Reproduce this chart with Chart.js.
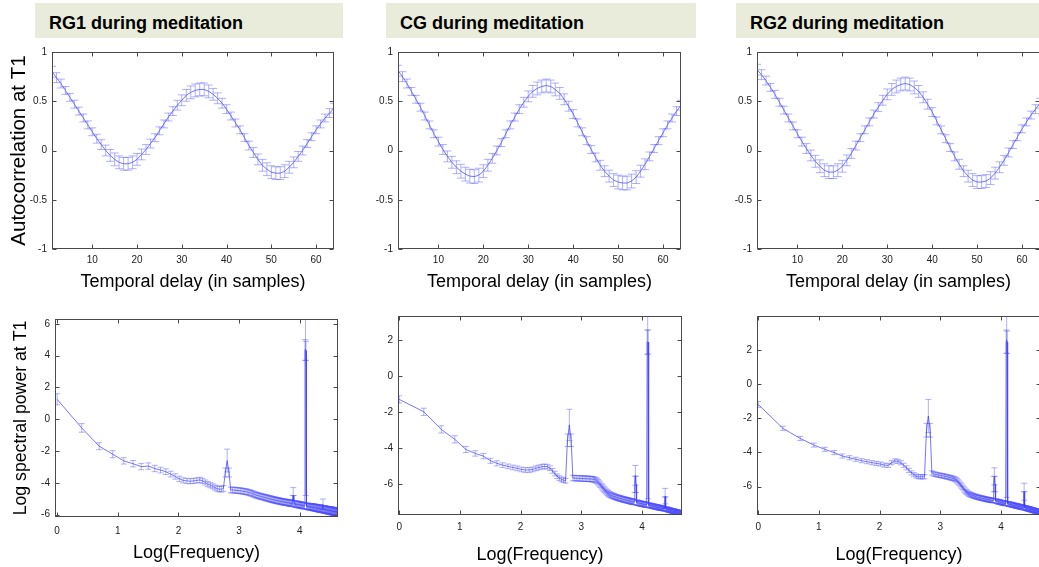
<!DOCTYPE html>
<html>
<head>
<meta charset="utf-8">
<script src="https://cdn.jsdelivr.net/npm/chart.js@4"></script>
<style>
  html, body { margin: 0; padding: 0; background: #fff; }
  #fig { position: relative; width: 1039px; height: 567px; overflow: hidden; background: #fff; }
  .ttl { position: absolute; top: 3px; height: 35px; box-sizing: border-box; padding: 10px 0 0 14px;
         background: #e9ecda; font: bold 18px 'Liberation Sans', Arial, sans-serif; line-height: 20px; color: #000; white-space: nowrap; }
  canvas { position: absolute; }
</style>
</head>
<body>
<div id="fig">
  <div class="ttl" style="left:35px;width:308px">RG1 during meditation</div>
  <div class="ttl" style="left:386px;width:310px">CG during meditation</div>
  <div class="ttl" style="left:736px;width:310px">RG2 during meditation</div>
  <canvas id="c1" width="345" height="260" style="left:0;top:40px"></canvas>
  <canvas id="c2" width="345" height="260" style="left:346px;top:40px"></canvas>
  <canvas id="c3" width="340" height="260" style="left:705px;top:40px"></canvas>
  <canvas id="c4" width="345" height="262" style="left:0;top:305px"></canvas>
  <canvas id="c5" width="345" height="262" style="left:346px;top:305px"></canvas>
  <canvas id="c6" width="345" height="262" style="left:705px;top:305px"></canvas>
</div>
<script>
// ---- autocorrelation (top row) ----
const lagSamples = [1, 2, 3, 4, 5, 6, 7, 8, 9, 10, 11, 12, 13, 14, 15, 16, 17, 18, 19, 20,
  21, 22, 23, 24, 25, 26, 27, 28, 29, 30, 31, 32, 33, 34, 35, 36, 37, 38, 39, 40,
  41, 42, 43, 44, 45, 46, 47, 48, 49, 50, 51, 52, 53, 54, 55, 56, 57, 58, 59, 60,
  61, 62, 63, 64];
const lagTicks = [10, 20, 30, 40, 50, 60];
const acTicks = [-1, -0.5, 0, 0.5, 1];

const acMeanRG1 = [0.80, 0.74, 0.68, 0.61, 0.54, 0.47, 0.40, 0.33, 0.26, 0.19,
  0.12, 0.06, 0.00, -0.05, -0.09, -0.12, -0.135, -0.135, -0.12, -0.09,
  -0.04, 0.01, 0.07, 0.13, 0.20, 0.27, 0.34, 0.40, 0.46, 0.51,
  0.56, 0.59, 0.61, 0.62, 0.62, 0.60, 0.57, 0.53, 0.48, 0.42,
  0.35, 0.28, 0.21, 0.13, 0.05, -0.02, -0.09, -0.15, -0.19, -0.22,
  -0.23, -0.23, -0.21, -0.17, -0.12, -0.06, 0.00, 0.07, 0.14, 0.21,
  0.27, 0.33, 0.38, 0.43];
const acErrRG1 = [0.055, 0.05, 0.045, 0.04, 0.04, 0.04, 0.04, 0.04, 0.04, 0.04,
  0.045, 0.05, 0.055, 0.06, 0.065, 0.065, 0.065, 0.065, 0.065, 0.06,
  0.055, 0.05, 0.045, 0.04, 0.04, 0.04, 0.04, 0.045, 0.05, 0.055,
  0.06, 0.065, 0.065, 0.065, 0.065, 0.065, 0.06, 0.055, 0.05, 0.045,
  0.04, 0.04, 0.04, 0.04, 0.045, 0.05, 0.055, 0.06, 0.065, 0.065,
  0.065, 0.065, 0.065, 0.06, 0.055, 0.05, 0.045, 0.04, 0.04, 0.04,
  0.04, 0.04, 0.045, 0.05];

const acMeanCG = [0.81, 0.75, 0.68, 0.60, 0.52, 0.44, 0.35, 0.26, 0.17, 0.09,
  0.01, -0.06, -0.12, -0.17, -0.21, -0.24, -0.26, -0.265, -0.25, -0.21,
  -0.15, -0.08, 0.00, 0.08, 0.17, 0.26, 0.34, 0.42, 0.49, 0.55,
  0.60, 0.63, 0.65, 0.66, 0.65, 0.62, 0.58, 0.52, 0.45, 0.37,
  0.28, 0.19, 0.10, 0.01, -0.07, -0.15, -0.21, -0.26, -0.30, -0.32,
  -0.33, -0.33, -0.31, -0.27, -0.21, -0.14, -0.06, 0.02, 0.10, 0.18,
  0.26, 0.33, 0.40, 0.46];
const acErrCG = [0.055, 0.05, 0.045, 0.04, 0.04, 0.04, 0.04, 0.04, 0.04, 0.045,
  0.05, 0.055, 0.06, 0.065, 0.07, 0.07, 0.07, 0.07, 0.07, 0.065,
  0.06, 0.05, 0.045, 0.04, 0.04, 0.04, 0.04, 0.045, 0.05, 0.055,
  0.06, 0.065, 0.065, 0.065, 0.065, 0.065, 0.06, 0.055, 0.05, 0.045,
  0.04, 0.04, 0.04, 0.04, 0.045, 0.05, 0.055, 0.06, 0.065, 0.07,
  0.07, 0.07, 0.07, 0.065, 0.06, 0.055, 0.045, 0.04, 0.04, 0.04,
  0.04, 0.04, 0.045, 0.05];

const acMeanRG2 = [0.82, 0.77, 0.71, 0.64, 0.57, 0.49, 0.41, 0.33, 0.25, 0.17,
  0.09, 0.02, -0.05, -0.11, -0.16, -0.20, -0.22, -0.22, -0.20, -0.16,
  -0.10, -0.03, 0.05, 0.13, 0.21, 0.29, 0.37, 0.44, 0.51, 0.57,
  0.62, 0.65, 0.67, 0.68, 0.67, 0.64, 0.60, 0.54, 0.47, 0.39,
  0.30, 0.21, 0.12, 0.03, -0.06, -0.14, -0.21, -0.26, -0.30, -0.32,
  -0.32, -0.31, -0.28, -0.23, -0.17, -0.10, -0.02, 0.06, 0.14, 0.22,
  0.29, 0.36, 0.42, 0.48];
const acErrRG2 = [0.055, 0.05, 0.045, 0.04, 0.04, 0.04, 0.04, 0.04, 0.04, 0.04,
  0.045, 0.05, 0.055, 0.06, 0.065, 0.065, 0.065, 0.065, 0.065, 0.06,
  0.055, 0.05, 0.045, 0.04, 0.04, 0.04, 0.04, 0.045, 0.05, 0.055,
  0.06, 0.065, 0.065, 0.065, 0.065, 0.065, 0.06, 0.055, 0.05, 0.045,
  0.04, 0.04, 0.04, 0.04, 0.045, 0.05, 0.055, 0.06, 0.065, 0.065,
  0.065, 0.065, 0.065, 0.06, 0.055, 0.05, 0.045, 0.04, 0.04, 0.04,
  0.04, 0.04, 0.045, 0.05];

// ---- log spectral power (bottom row), one value per 0.5 Hz ----
const freqHz = [1, 1.5, 2, 2.5, 3, 3.5, 4, 4.5, 5, 5.5,
  6, 6.5, 7, 7.5, 8, 8.5, 9, 9.5, 10, 10.5,
  11, 11.5, 12, 12.5, 13, 13.5, 14, 14.5, 15, 15.5,
  16, 16.5, 17, 17.5, 18, 18.5, 19, 19.5, 20, 20.5,
  21, 21.5, 22, 22.5, 23, 23.5, 24, 24.5, 25, 25.5,
  26, 26.5, 27, 27.5, 28, 28.5, 29, 29.5, 30, 30.5,
  31, 31.5, 32, 32.5, 33, 33.5, 34, 34.5, 35, 35.5,
  36, 36.5, 37, 37.5, 38, 38.5, 39, 39.5, 40, 40.5,
  41, 41.5, 42, 42.5, 43, 43.5, 44, 44.5, 45, 45.5,
  46, 46.5, 47, 47.5, 48, 48.5, 49, 49.5, 50, 50.5,
  51, 51.5, 52, 52.5, 53, 53.5, 54, 54.5, 55, 55.5,
  56, 56.5, 57, 57.5, 58, 58.5, 59, 59.5, 60, 60.5,
  61, 61.5, 62, 62.5, 63, 63.5, 64, 64.5, 65, 65.5,
  66, 66.5, 67, 67.5, 68, 68.5, 69, 69.5, 70, 70.5,
  71, 71.5, 72, 72.5, 73, 73.5, 74, 74.5, 75, 75.5,
  76, 76.5, 77, 77.5, 78, 78.5, 79, 79.5, 80, 80.5,
  81, 81.5, 82, 82.5, 83, 83.5, 84, 84.5, 85, 85.5,
  86, 86.5, 87, 87.5, 88, 88.5, 89, 89.5, 90, 90.5,
  91, 91.5, 92, 92.5, 93, 93.5, 94, 94.5, 95, 95.5,
  96, 96.5, 97, 97.5, 98, 98.5, 99, 99.5, 100, 100.5,
  101, 101.5, 102, 102.5, 103, 103.5, 104, 104.5, 105];
const logFreqTicks = [0, 1, 2, 3, 4];
const spTicksRG1 = [-6, -4, -2, 0, 2, 4, 6];
const spTicksCG = [-6, -4, -2, 0, 2];
const spTicksRG2 = [-6, -4, -2, 0, 2];

const spMeanRG1 = [1.25, -0.55, -1.7, -2.2, -2.62, -2.8, -2.98, -2.95, -3.1, -3.2,
  -3.3, -3.45, -3.6, -3.75, -3.85, -3.88, -3.9, -3.88, -3.85, -3.82,
  -3.88, -3.98, -4.08, -4.15, -4.22, -4.3, -4.36, -4.4, -4.4, -4.35,
  -3.35, -2.6, -3.35, -4.45, -4.45, -4.46, -4.47, -4.48, -4.5, -4.5,
  -4.52, -4.53, -4.55, -4.56, -4.58, -4.61, -4.63, -4.65, -4.68, -4.71,
  -4.74, -4.77, -4.79, -4.81, -4.83, -4.85, -4.87, -4.88, -4.9, -4.92,
  -4.93, -4.95, -4.97, -4.98, -5.0, -5.01, -5.03, -5.04, -5.06, -5.07,
  -5.08, -5.09, -5.11, -5.12, -5.13, -5.14, -5.15, -5.16, -5.17, -5.18,
  -5.19, -5.2, -5.21, -5.22, -5.22, -5.23, -5.24, -5.25, -5.25, -5.26,
  -5.27, -5.28, -5.28, -5.29, -5.3, -5.1, -4.8, -5.1, -5.32, -5.33,
  -5.34, -5.35, -5.35, -5.36, -5.37, -5.37, -5.38, -5.39, -5.39, -5.4,
  -5.41, -5.42, -5.42, -5.43, -5.44, -5.44, -5.45, 4.35, 4.4, 4.3,
  -5.47, -5.48, -5.48, -5.49, -5.49, -5.5, -5.5, -5.51, -5.51, -5.52,
  -5.52, -5.53, -5.53, -5.54, -5.54, -5.55, -5.55, -5.56, -5.56, -5.57,
  -5.57, -5.58, -5.58, -5.59, -5.59, -5.6, -5.6, -5.61, -5.61, -5.62,
  -5.62, -5.63, -5.63, -5.64, -5.64, -5.65, -5.65, -5.66, -5.35, -5.66,
  -5.67, -5.67, -5.68, -5.68, -5.69, -5.69, -5.7, -5.7, -5.71, -5.71,
  -5.72, -5.72, -5.72, -5.73, -5.73, -5.74, -5.74, -5.74, -5.75, -5.75,
  -5.76, -5.76, -5.77, -5.77, -5.78, -5.78, -5.78, -5.79, -5.79, -5.8,
  -5.8, -5.81, -5.81, -5.81, -5.82, -5.82, -5.83, -5.83, -5.83, -5.84,
  -5.84, -5.84, -5.85, -5.85, -5.85, -5.86, -5.86, -5.86, -5.87];
const spErrRG1 = [0.35, 0.27, 0.22, 0.22, 0.2, 0.2, 0.2, 0.2, 0.2, 0.18,
  0.18, 0.18, 0.17, 0.17, 0.16, 0.16, 0.16, 0.16, 0.16, 0.16,
  0.16, 0.16, 0.16, 0.16, 0.16, 0.16, 0.17, 0.17, 0.18, 0.18,
  0.28, 0.72, 0.28, 0.18, 0.18, 0.18, 0.18, 0.18, 0.18, 0.18,
  0.18, 0.18, 0.18, 0.18, 0.18, 0.18, 0.18, 0.18, 0.18, 0.18,
  0.18, 0.18, 0.18, 0.18, 0.18, 0.18, 0.18, 0.18, 0.18, 0.18,
  0.19, 0.19, 0.19, 0.19, 0.19, 0.19, 0.19, 0.19, 0.19, 0.19,
  0.19, 0.19, 0.19, 0.19, 0.19, 0.19, 0.19, 0.19, 0.19, 0.19,
  0.19, 0.19, 0.19, 0.19, 0.19, 0.19, 0.19, 0.19, 0.19, 0.19,
  0.2, 0.2, 0.2, 0.2, 0.2, 0.3, 0.5, 0.3, 0.2, 0.2,
  0.2, 0.2, 0.2, 0.2, 0.2, 0.2, 0.2, 0.2, 0.2, 0.2,
  0.2, 0.2, 0.2, 0.2, 0.2, 0.2, 0.2, 0.65, 9.2, 0.6,
  0.2, 0.2, 0.2, 0.2, 0.2, 0.2, 0.2, 0.2, 0.2, 0.2,
  0.21, 0.21, 0.21, 0.21, 0.21, 0.21, 0.21, 0.21, 0.21, 0.21,
  0.22, 0.22, 0.22, 0.22, 0.22, 0.22, 0.22, 0.22, 0.22, 0.22,
  0.22, 0.22, 0.22, 0.22, 0.22, 0.22, 0.22, 0.22, 0.33, 0.22,
  0.23, 0.23, 0.23, 0.23, 0.23, 0.23, 0.23, 0.23, 0.23, 0.23,
  0.23, 0.23, 0.23, 0.23, 0.23, 0.23, 0.23, 0.23, 0.23, 0.23,
  0.24, 0.24, 0.24, 0.24, 0.24, 0.24, 0.24, 0.24, 0.24, 0.24,
  0.24, 0.24, 0.24, 0.24, 0.24, 0.24, 0.24, 0.24, 0.24, 0.24,
  0.24, 0.24, 0.24, 0.24, 0.24, 0.24, 0.24, 0.24, 0.24];

const spMeanCG = [-1.28, -1.97, -2.95, -3.5, -4.06, -4.28, -4.43, -4.69, -4.83, -4.93,
  -5.0, -5.06, -5.11, -5.17, -5.2, -5.2, -5.17, -5.11, -5.06, -5.02,
  -5.0, -5.02, -5.1, -5.25, -5.4, -5.55, -5.65, -5.72, -5.76, -5.8,
  -3.55, -2.7, -3.55, -5.65, -5.65, -5.66, -5.66, -5.67, -5.67, -5.68,
  -5.68, -5.68, -5.69, -5.69, -5.7, -5.7, -5.71, -5.72, -5.74, -5.77,
  -5.82, -5.88, -5.95, -6.02, -6.1, -6.17, -6.24, -6.3, -6.36, -6.42,
  -6.47, -6.51, -6.55, -6.58, -6.61, -6.63, -6.65, -6.67, -6.69, -6.71,
  -6.72, -6.74, -6.75, -6.77, -6.78, -6.79, -6.8, -6.82, -6.83, -6.84,
  -6.85, -6.86, -6.87, -6.88, -6.89, -6.9, -6.91, -6.92, -6.93, -6.94,
  -6.95, -6.96, -6.97, -6.97, -6.98, -6.0, -5.5, -6.0, -7.01, -7.02,
  -7.03, -7.04, -7.04, -7.05, -7.06, -7.07, -7.07, -7.08, -7.09, -7.09,
  -7.1, -7.11, -7.11, -7.12, -7.13, -7.13, -7.14, 1.9, 1.9, 1.9,
  -7.16, -7.16, -7.17, -7.18, -7.18, -7.19, -7.19, -7.2, -7.21, -7.21,
  -7.22, -7.22, -7.23, -7.24, -7.24, -7.25, -7.25, -7.26, -7.26, -7.27,
  -7.27, -7.28, -7.29, -7.29, -7.3, -7.3, -7.31, -7.31, -7.32, -7.32,
  -7.33, -7.33, -7.34, -7.34, -7.35, -7.35, -7.36, -7.0, -6.65, -7.0,
  -7.37, -7.38, -7.38, -7.39, -7.39, -7.4, -7.4, -7.41, -7.42, -7.42,
  -7.43, -7.43, -7.44, -7.44, -7.45, -7.45, -7.46, -7.46, -7.47, -7.47,
  -7.48, -7.48, -7.49, -7.49, -7.5, -7.5, -7.51, -7.51, -7.52, -7.52,
  -7.53, -7.53, -7.54, -7.54, -7.55, -7.55, -7.55, -7.56, -7.56, -7.57,
  -7.57, -7.58, -7.58, -7.58, -7.59, -7.59, -7.6, -7.6, -7.6];
const spErrCG = [0.2, 0.2, 0.2, 0.2, 0.17, 0.15, 0.15, 0.14, 0.14, 0.13,
  0.13, 0.13, 0.13, 0.13, 0.13, 0.13, 0.13, 0.13, 0.13, 0.13,
  0.13, 0.13, 0.13, 0.13, 0.13, 0.13, 0.13, 0.13, 0.13, 0.13,
  0.35, 0.87, 0.35, 0.15, 0.15, 0.15, 0.15, 0.15, 0.15, 0.15,
  0.15, 0.15, 0.15, 0.15, 0.15, 0.15, 0.15, 0.15, 0.15, 0.15,
  0.15, 0.15, 0.15, 0.15, 0.15, 0.15, 0.15, 0.15, 0.15, 0.15,
  0.15, 0.15, 0.15, 0.15, 0.15, 0.15, 0.15, 0.15, 0.15, 0.15,
  0.15, 0.15, 0.15, 0.15, 0.15, 0.15, 0.15, 0.15, 0.15, 0.15,
  0.15, 0.15, 0.15, 0.15, 0.15, 0.15, 0.15, 0.15, 0.15, 0.15,
  0.15, 0.15, 0.15, 0.15, 0.15, 0.45, 0.55, 0.45, 0.15, 0.15,
  0.14, 0.14, 0.14, 0.14, 0.14, 0.14, 0.14, 0.14, 0.14, 0.14,
  0.14, 0.14, 0.14, 0.14, 0.14, 0.14, 0.14, 0.67, 8.7, 0.67,
  0.13, 0.13, 0.13, 0.13, 0.13, 0.13, 0.13, 0.13, 0.13, 0.13,
  0.13, 0.13, 0.13, 0.13, 0.13, 0.13, 0.13, 0.13, 0.13, 0.13,
  0.13, 0.13, 0.13, 0.13, 0.13, 0.13, 0.13, 0.13, 0.13, 0.13,
  0.12, 0.12, 0.12, 0.12, 0.12, 0.12, 0.12, 0.3, 0.43, 0.3,
  0.12, 0.12, 0.12, 0.12, 0.12, 0.12, 0.12, 0.12, 0.12, 0.12,
  0.12, 0.12, 0.12, 0.12, 0.12, 0.12, 0.12, 0.12, 0.12, 0.12,
  0.12, 0.12, 0.12, 0.12, 0.12, 0.12, 0.12, 0.12, 0.12, 0.12,
  0.12, 0.12, 0.12, 0.12, 0.12, 0.12, 0.12, 0.12, 0.12, 0.12,
  0.12, 0.12, 0.12, 0.12, 0.12, 0.12, 0.12, 0.12, 0.12];

const spMeanRG2 = [-1.19, -2.59, -3.18, -3.57, -3.82, -4.01, -4.21, -4.31, -4.4, -4.48,
  -4.54, -4.6, -4.64, -4.68, -4.74, -4.76, -4.6, -4.5, -4.52, -4.6,
  -4.75, -4.9, -5.05, -5.2, -5.3, -5.38, -5.42, -5.43, -5.43, -5.42,
  -2.7, -1.87, -2.7, -5.2, -5.25, -5.28, -5.3, -5.32, -5.34, -5.36,
  -5.37, -5.39, -5.41, -5.43, -5.45, -5.47, -5.49, -5.51, -5.53, -5.56,
  -5.6, -5.66, -5.73, -5.8, -5.88, -5.96, -6.04, -6.12, -6.2, -6.27,
  -6.32, -6.37, -6.41, -6.44, -6.47, -6.49, -6.51, -6.53, -6.55, -6.57,
  -6.58, -6.6, -6.61, -6.62, -6.64, -6.65, -6.66, -6.67, -6.68, -6.69,
  -6.7, -6.71, -6.72, -6.73, -6.74, -6.75, -6.76, -6.77, -6.77, -6.78,
  -6.79, -6.8, -6.8, -6.81, -6.82, -5.85, -5.4, -5.85, -6.84, -6.85,
  -6.86, -6.87, -6.88, -6.89, -6.9, -6.9, -6.91, -6.92, -6.93, -6.94,
  -6.95, -6.95, -6.96, -6.97, -6.98, -6.98, -6.99, 2.48, 2.57, 2.45,
  -7.0, -7.01, -7.02, -7.02, -7.03, -7.04, -7.04, -7.05, -7.06, -7.06,
  -7.07, -7.08, -7.08, -7.09, -7.1, -7.1, -7.11, -7.12, -7.12, -7.13,
  -7.13, -7.14, -7.15, -7.15, -7.16, -7.16, -7.17, -7.18, -7.18, -7.19,
  -7.19, -7.2, -7.2, -7.21, -7.22, -7.22, -7.23, -6.7, -6.3, -6.7,
  -7.24, -7.25, -7.25, -7.26, -7.27, -7.27, -7.28, -7.28, -7.29, -7.3,
  -7.3, -7.31, -7.31, -7.32, -7.32, -7.33, -7.34, -7.34, -7.35, -7.35,
  -7.36, -7.36, -7.37, -7.38, -7.38, -7.39, -7.39, -7.4, -7.4, -7.41,
  -7.41, -7.42, -7.42, -7.43, -7.43, -7.44, -7.44, -7.45, -7.45, -7.46,
  -7.46, -7.47, -7.47, -7.48, -7.48, -7.49, -7.49, -7.5, -7.5];
const spErrRG2 = [0.17, 0.12, 0.12, 0.12, 0.12, 0.12, 0.12, 0.12, 0.12, 0.12,
  0.12, 0.12, 0.12, 0.12, 0.12, 0.12, 0.12, 0.12, 0.12, 0.12,
  0.12, 0.12, 0.12, 0.12, 0.12, 0.12, 0.12, 0.12, 0.12, 0.12,
  0.4, 0.97, 0.4, 0.13, 0.13, 0.13, 0.13, 0.13, 0.13, 0.13,
  0.13, 0.13, 0.13, 0.13, 0.13, 0.13, 0.13, 0.13, 0.13, 0.13,
  0.13, 0.13, 0.13, 0.13, 0.13, 0.13, 0.13, 0.13, 0.13, 0.13,
  0.13, 0.13, 0.13, 0.13, 0.13, 0.13, 0.13, 0.13, 0.13, 0.13,
  0.13, 0.13, 0.13, 0.13, 0.13, 0.13, 0.13, 0.13, 0.13, 0.13,
  0.13, 0.13, 0.13, 0.13, 0.13, 0.13, 0.13, 0.13, 0.13, 0.13,
  0.13, 0.13, 0.13, 0.13, 0.13, 0.45, 0.5, 0.45, 0.13, 0.13,
  0.13, 0.13, 0.13, 0.13, 0.13, 0.13, 0.13, 0.13, 0.13, 0.13,
  0.13, 0.13, 0.13, 0.13, 0.13, 0.13, 0.13, 0.68, 9.2, 0.65,
  0.13, 0.13, 0.13, 0.13, 0.13, 0.13, 0.13, 0.13, 0.13, 0.13,
  0.13, 0.13, 0.13, 0.13, 0.13, 0.13, 0.13, 0.13, 0.13, 0.13,
  0.13, 0.13, 0.13, 0.13, 0.13, 0.13, 0.13, 0.13, 0.13, 0.13,
  0.13, 0.13, 0.13, 0.13, 0.13, 0.13, 0.13, 0.4, 0.5, 0.4,
  0.13, 0.13, 0.13, 0.13, 0.13, 0.13, 0.13, 0.13, 0.13, 0.13,
  0.13, 0.13, 0.13, 0.13, 0.13, 0.13, 0.13, 0.13, 0.13, 0.13,
  0.13, 0.13, 0.13, 0.13, 0.13, 0.13, 0.13, 0.13, 0.13, 0.13,
  0.13, 0.13, 0.13, 0.13, 0.13, 0.13, 0.13, 0.13, 0.13, 0.13,
  0.13, 0.13, 0.13, 0.13, 0.13, 0.13, 0.13, 0.13, 0.13];

const FONT = "'Liberation Sans', Arial, Helvetica, sans-serif";
const LINE_COLOR = 'rgba(60, 60, 255, 0.7)';
const BAR_COLOR = 'rgba(80, 80, 255, 0.45)';

// vertical error bars with caps, drawn from the dataset's own points
const errorBars = {
  id: 'errorBars',
  beforeDatasetsDraw(chart, args, opts) {
    const { ctx, chartArea: a, scales } = chart;
    const ds = chart.data.datasets[0];
    const pts = chart.getDatasetMeta(0).data;
    ctx.save();
    ctx.beginPath();
    ctx.rect(a.left, a.top, a.right - a.left, a.bottom - a.top);
    ctx.clip();
    ctx.strokeStyle = BAR_COLOR;
    ctx.lineWidth = 1;
    pts.forEach((pt, i) => {
      const v = ds.data[i].y, e = ds.errors[i];
      const hi = scales.y.getPixelForValue(v + e);
      const lo = scales.y.getPixelForValue(v - e);
      ctx.beginPath();
      ctx.moveTo(pt.x, hi); ctx.lineTo(pt.x, lo);
      ctx.moveTo(pt.x - opts.cap, hi); ctx.lineTo(pt.x + opts.cap, hi);
      ctx.moveTo(pt.x - opts.cap, lo); ctx.lineTo(pt.x + opts.cap, lo);
      ctx.stroke();
    });
    ctx.restore();
  }
};

// matlab style box with inward ticks on all four sides
const boxTicks = {
  id: 'boxTicks',
  afterDraw(chart) {
    const { ctx, chartArea: a, scales: { x, y } } = chart;
    const L = Math.round(a.left) + 0.5, R = Math.round(a.right) - 0.5;
    const T = Math.round(a.top) + 0.5, B = Math.round(a.bottom) - 0.5;
    ctx.save();
    ctx.strokeStyle = '#4a4a4a';
    ctx.lineWidth = 1;
    ctx.strokeRect(L, T, R - L, B - T);
    ctx.beginPath();
    x.ticks.forEach(t => {
      const px = Math.round(x.getPixelForValue(t.value)) + 0.5;
      ctx.moveTo(px, B); ctx.lineTo(px, B - 4);
      ctx.moveTo(px, T); ctx.lineTo(px, T + 4);
    });
    y.ticks.forEach(t => {
      const py = Math.round(y.getPixelForValue(t.value)) + 0.5;
      ctx.moveTo(L, py); ctx.lineTo(L + 4, py);
      ctx.moveTo(R, py); ctx.lineTo(R - 4, py);
    });
    ctx.stroke();
    ctx.restore();
  }
};

function makePanel(id, c) {
  const isLog = c.xType === 'logarithmic';
  return new Chart(document.getElementById(id), {
    type: 'line',
    data: {
      datasets: [{
        data: c.x.map((v, i) => ({ x: v, y: c.y[i] })),
        errors: c.err,
        borderColor: LINE_COLOR,
        borderWidth: 1,
        pointRadius: 0,
        tension: 0,
        fill: false
      }]
    },
    options: {
      responsive: false,
      animation: false,
      devicePixelRatio: 1,
      layout: { padding: { top: c.padTop, right: c.padRight, left: 0, bottom: 0 } },
      plugins: {
        legend: { display: false },
        tooltip: { enabled: false },
        errorBars: { cap: c.cap }
      },
      scales: {
        x: {
          type: c.xType,
          bounds: 'data',
          min: c.xMin,
          max: c.xMax,
          grid: { display: false, drawTicks: false },
          border: { display: false },
          ticks: {
            autoSkip: false, maxRotation: 0, padding: c.xTickPad,
            font: { family: FONT, size: 10 }, color: '#222',
            callback: (v, i) => String(c.xTicks[i])
          },
          afterBuildTicks: axis => {
            axis.ticks = c.xTicks.map(t => ({ value: isLog ? Math.exp(t) : t }));
          },
          afterFit: axis => { axis.height = c.xH; },
          title: {
            display: true, text: c.xTitle, color: '#000',
            font: { family: FONT, size: c.xTitleSize },
            padding: { top: 0, bottom: c.xTitlePad }
          }
        },
        y: {
          type: 'linear',
          bounds: 'data',
          min: c.yMin,
          max: c.yMax,
          grid: { display: false, drawTicks: false },
          border: { display: false },
          ticks: {
            padding: 5, font: { family: FONT, size: 10 }, color: '#222',
            callback: v => String(v)
          },
          afterBuildTicks: axis => { axis.ticks = c.yTicks.map(t => ({ value: t })); },
          afterFit: axis => { axis.width = c.yW; },
          title: {
            display: !!c.yTitle, text: c.yTitle || '', color: '#000',
            font: { family: FONT, size: c.yTitleSize || 18 },
            padding: { top: c.yTitlePad || 0, bottom: 0 }
          }
        }
      }
    },
    plugins: [errorBars, boxTicks]
  });
}

const topCommon = {
  xType: 'linear', x: lagSamples, xMin: 1, xMax: 64, xTicks: lagTicks,
  yMin: -1, yMax: 1, yTicks: acTicks,
  xTitle: 'Temporal delay (in samples)', xTitleSize: 18, xTitlePad: 7,
  xTickPad: 5, xH: 51, yW: 52, padTop: 12, cap: 4
};
makePanel('c1', { ...topCommon, y: acMeanRG1, err: acErrRG1, padRight: 11,
  yTitle: 'Autocorrelation at T1', yTitleSize: 20.5, yTitlePad: 7 });
makePanel('c2', { ...topCommon, y: acMeanCG, err: acErrCG, padRight: 10 });
makePanel('c3', { ...topCommon, y: acMeanRG2, err: acErrRG2, padRight: 5 });

const botCommon = {
  xType: 'logarithmic', x: freqHz, xTicks: logFreqTicks,
  xTitle: 'Log(Frequency)', xTitleSize: 18, cap: 3
};
makePanel('c4', { ...botCommon, y: spMeanRG1, err: spErrRG1,
  xMin: Math.exp(-0.035), xMax: Math.exp(4.63), yMin: -6.15, yMax: 6.3, yTicks: spTicksRG1,
  xH: 50, yW: 55, padTop: 14, padRight: 7, xTickPad: 8, xTitlePad: 3,
  yTitle: 'Log spectral power at T1', yTitleSize: 17.7, yTitlePad: 10 });
makePanel('c5', { ...botCommon, y: spMeanCG, err: spErrCG,
  xMin: Math.exp(-0.02), xMax: Math.exp(4.66), yMin: -7.7, yMax: 3.35, yTicks: spTicksCG,
  xH: 52, yW: 52, padTop: 11, padRight: 9, xTickPad: 6, xTitlePad: 1 });
makePanel('c6', { ...botCommon, y: spMeanRG2, err: spErrRG2,
  xMin: Math.exp(-0.02), xMax: Math.exp(4.66), yMin: -7.66, yMax: 3.98, yTicks: spTicksRG2,
  xH: 52, yW: 52, padTop: 11, padRight: 9, xTickPad: 6, xTitlePad: 1 });
</script>
</body>
</html>
